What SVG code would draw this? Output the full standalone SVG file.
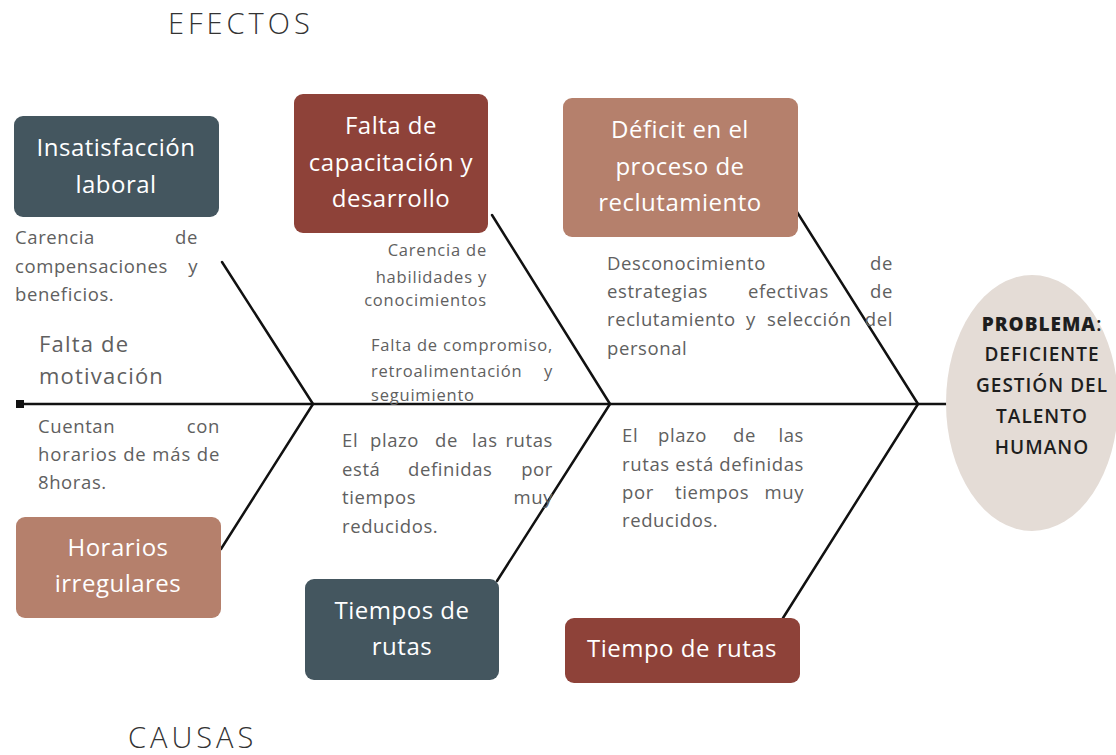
<svg xmlns="http://www.w3.org/2000/svg" width="1116" height="755" viewBox="0 0 1116 755">
<style>
.bone{stroke:#111;stroke-width:2.5;fill:none;stroke-linecap:round}
.box text{fill:#fff;font-family:"Open Sans","Liberation Sans",sans-serif;font-size:24px;font-weight:500;letter-spacing:0.5px;text-anchor:middle}
.note{fill:#606060;font-family:"Open Sans","Liberation Sans",sans-serif;font-size:18.5px;letter-spacing:0.6px}
.note2{fill:#606060;font-family:"Open Sans","Liberation Sans",sans-serif;font-size:16.5px;letter-spacing:0.8px}
.big{fill:#606060;font-family:"Open Sans","Liberation Sans",sans-serif;font-size:22px;letter-spacing:1.2px}
.title{fill:#333;font-family:"Open Sans","Liberation Sans",sans-serif;font-size:29px;font-weight:300;letter-spacing:4px}
.prob{fill:#1e1e1e;font-family:"Open Sans","Liberation Sans",sans-serif;font-size:19px;font-weight:600;letter-spacing:1px;text-anchor:middle}
.dark{fill:#44565f}.red{fill:#8e4239}.tan{fill:#b5806c}
</style>
<rect width="1116" height="755" fill="#fff"/>
<text class="title" x="168" y="34">EFECTOS</text>
<text class="title" x="128" y="748" letter-spacing="4.5">CAUSAS</text>

<g id="connectors">
  <line class="bone" x1="20" y1="404" x2="946" y2="404"/>
  <rect x="16" y="400" width="8" height="8" fill="#111"/>
  <line class="bone" x1="222" y1="262" x2="313" y2="404"/>
  <line class="bone" x1="313" y1="404" x2="221" y2="549"/>
  <line class="bone" x1="492" y1="215" x2="610" y2="404"/>
  <line class="bone" x1="610" y1="404" x2="497" y2="581"/>
  <line class="bone" x1="797" y1="212" x2="918" y2="404"/>
  <line class="bone" x1="918" y1="404" x2="783" y2="618"/>
</g>

<g id="problema">
  <ellipse cx="1032" cy="403" rx="86" ry="128" fill="#e4dcd6"/>
  <text class="prob" x="1042" y="331"><tspan font-weight="800">PROBLEMA</tspan>:</text>
  <text class="prob" x="1042" y="361">DEFICIENTE</text>
  <text class="prob" x="1042" y="392">GESTIÓN DEL</text>
  <text class="prob" x="1042" y="423">TALENTO</text>
  <text class="prob" x="1042" y="454">HUMANO</text>
</g>

<g id="insatisfaccion" class="box">
  <rect class="dark" x="14" y="116" width="205" height="101" rx="9"/>
  <text x="116" y="156">Insatisfacción</text>
  <text x="116" y="193">laboral</text>
</g>
<g id="capacitacion" class="box">
  <rect class="red" x="294" y="94" width="194" height="139" rx="9"/>
  <text x="391" y="134">Falta de</text>
  <text x="391" y="171">capacitación y</text>
  <text x="391" y="207">desarrollo</text>
</g>
<g id="deficit" class="box">
  <rect class="tan" x="563" y="98" width="235" height="139" rx="9"/>
  <text x="680" y="138">Déficit en el</text>
  <text x="680" y="175">proceso de</text>
  <text x="680" y="211">reclutamiento</text>
</g>
<g id="horarios" class="box">
  <rect class="tan" x="16" y="517" width="205" height="101" rx="9"/>
  <text x="118" y="556">Horarios</text>
  <text x="118" y="592">irregulares</text>
</g>
<g id="tiempos" class="box">
  <rect class="dark" x="305" y="579" width="194" height="101" rx="9"/>
  <text x="402" y="619">Tiempos de</text>
  <text x="402" y="655">rutas</text>
</g>
<g id="tiempo" class="box">
  <rect class="red" x="565" y="618" width="235" height="65" rx="9"/>
  <text x="682" y="657">Tiempo de rutas</text>
</g>

<g id="notes-left">
  <text class="note" y="244"><tspan x="15">Carencia</tspan><tspan x="198" text-anchor="end">de</tspan></text>
  <text class="note" y="273"><tspan x="15">compensaciones</tspan><tspan x="198" text-anchor="end">y</tspan></text>
  <text class="note" x="15" y="301">beneficios.</text>
  <text class="big" x="39" y="352">Falta de</text>
  <text class="big" x="39" y="384">motivación</text>
  <text class="note" y="433"><tspan x="38">Cuentan</tspan><tspan x="220" text-anchor="end">con</tspan></text>
  <text class="note" x="38" y="461" textLength="182" lengthAdjust="spacing">horarios de más de</text>
  <text class="note" x="38" y="489">8horas.</text>
</g>

<g id="notes-mid">
  <text class="note2" x="487" y="256" text-anchor="end">Carencia de</text>
  <text class="note2" x="487" y="283" text-anchor="end">habilidades y</text>
  <text class="note2" x="487" y="306" text-anchor="end">conocimientos</text>
  <text class="note2" x="371" y="351" textLength="182" lengthAdjust="spacing">Falta de compromiso,</text>
  <text class="note2" y="377"><tspan x="371">retroalimentación</tspan><tspan x="553" text-anchor="end">y</tspan></text>
  <text class="note2" x="371" y="401">seguimiento</text>
  <text class="note" y="447"><tspan x="342">El</tspan><tspan x="370">plazo</tspan><tspan x="435">de</tspan><tspan x="472">las</tspan><tspan x="553" text-anchor="end">rutas</tspan></text>
  <text class="note" y="476"><tspan x="342">está</tspan><tspan x="408">definidas</tspan><tspan x="553" text-anchor="end">por</tspan></text>
  <text class="note" y="504"><tspan x="342">tiempos</tspan><tspan x="553" text-anchor="end">muy</tspan></text>
  <text class="note" x="342" y="533">reducidos.</text>
</g>

<g id="notes-right">
  <text class="note" y="270"><tspan x="607">Desconocimiento</tspan><tspan x="893" text-anchor="end">de</tspan></text>
  <text class="note" y="298"><tspan x="607">estrategias</tspan><tspan x="748">efectivas</tspan><tspan x="893" text-anchor="end">de</tspan></text>
  <text class="note" y="326"><tspan x="607">reclutamiento</tspan><tspan x="746">y</tspan><tspan x="767">selección</tspan><tspan x="893" text-anchor="end">del</tspan></text>
  <text class="note" x="607" y="355">personal</text>
  <text class="note" y="442"><tspan x="622">El</tspan><tspan x="658">plazo</tspan><tspan x="733">de</tspan><tspan x="804" text-anchor="end">las</tspan></text>
  <text class="note" x="622" y="471" textLength="182" lengthAdjust="spacing">rutas está definidas</text>
  <text class="note" y="499"><tspan x="622">por</tspan><tspan x="675">tiempos</tspan><tspan x="804" text-anchor="end">muy</tspan></text>
  <text class="note" x="622" y="527">reducidos.</text>
</g>
</svg>
